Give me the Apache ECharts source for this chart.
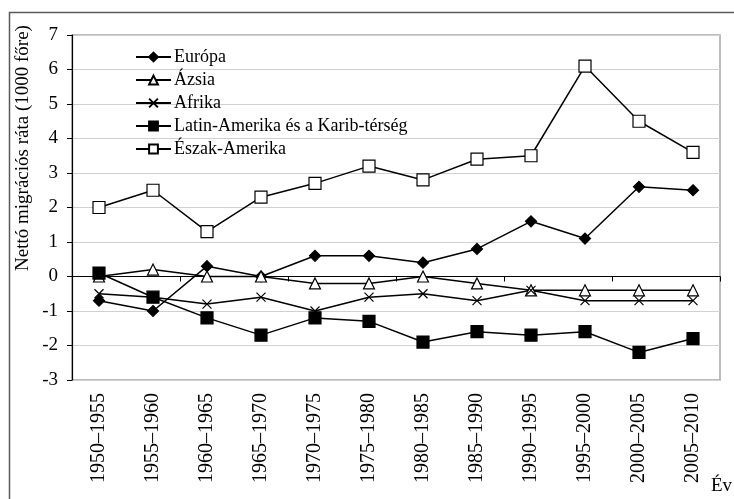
<!DOCTYPE html>
<html><head><meta charset="utf-8">
<script src="https://cdn.jsdelivr.net/npm/echarts@6/dist/echarts.min.js"></script>
<style>html,body{margin:0;padding:0;background:#fff}#c{width:734px;height:499px}</style>
</head><body><div id="c"></div>
<script>
const categories = ['1950–1955','1955–1960','1960–1965','1965–1970','1970–1975','1975–1980','1980–1985','1985–1990','1990–1995','1995–2000','2000–2005','2005–2010'];
const europa = [-0.7,-1.0,0.3,0.0,0.6,0.6,0.4,0.8,1.6,1.1,2.6,2.5];
const azsia = [0.0,0.2,0.0,0.0,-0.2,-0.2,0.0,-0.2,-0.4,-0.4,-0.4,-0.4];
const afrika = [-0.5,-0.6,-0.8,-0.6,-1.0,-0.6,-0.5,-0.7,-0.4,-0.7,-0.7,-0.7];
const latin = [0.1,-0.6,-1.2,-1.7,-1.2,-1.3,-1.9,-1.6,-1.7,-1.6,-2.2,-1.8];
const eszak = [2.0,2.5,1.3,2.3,2.7,3.2,2.8,3.4,3.5,6.1,4.5,3.6];
const seriesNames = ['Európa','Ázsia','Afrika','Latin-Amerika és a Karib-térség','Észak-Amerika'];
const yTitle = 'Nettó migrációs ráta (1000 főre)';
const xTitle = 'Év';

const FONT = '"Liberation Serif","Times New Roman",serif';
const chart = echarts.init(document.getElementById('c'), null, {renderer:'canvas'});
function mk(name, data, symbol, size, fill){
  return {name, type:'line', data, xAxisIndex:0, yAxisIndex:0, symbol, symbolSize:size,
    showAllSymbol:true,
    lineStyle:{color:'#000', width:1.5},
    itemStyle:{color:fill, borderColor:'#000', borderWidth:1.2},
    emphasis:{disabled:true}, animation:false, z:3};
}
chart.setOption({
  animation:false,
  textStyle:{fontFamily:FONT},
  grid:{left:72, right:14, top:35, bottom:119, show:true, borderColor:'#a6a6a6', borderWidth:1.5, containLabel:false},
  legend:{orient:'vertical', left:130, top:43, itemWidth:35, itemHeight:11, itemGap:5,
    textStyle:{fontFamily:FONT, fontSize:18, lineHeight:18, color:'#000', padding:[0,0,0,-2]},
    data:seriesNames},
  xAxis:[
    {type:'category', data:categories, boundaryGap:true,
     axisLine:{onZero:true, lineStyle:{color:'#000', width:1.2}},
     axisTick:{show:true, inside:false, length:5, lineStyle:{color:'#000'}},
     axisLabel:{show:false}, splitLine:{show:false}},
    {type:'category', data:categories, boundaryGap:true, position:'bottom',
     axisLine:{show:false, onZero:false}, axisTick:{show:false},
     axisLabel:{show:true, rotate:90, margin:13, fontFamily:FONT, fontSize:20, color:'#000'},
     splitLine:{show:false}}
  ],
  yAxis:{type:'value', min:-3, max:7, interval:1,
    axisLine:{show:true, lineStyle:{color:'#000', width:1.2}},
    axisTick:{show:true, inside:false, length:5, lineStyle:{color:'#000'}},
    axisLabel:{fontFamily:FONT, fontSize:19, color:'#000', margin:14},
    splitLine:{lineStyle:{color:'#d0d0d0', width:1.2}}},
  graphic:[
    {type:'rect', left:7, top:10, shape:{width:740, height:500}, style:{fill:'none', stroke:'#595959', lineWidth:1.5}, silent:true},
    {type:'text', x:23, y:148, rotation:Math.PI/2, style:{text:yTitle, font:'19px '+FONT, fill:'#000', align:'center', verticalAlign:'middle'}},
    {type:'text', x:711, y:496, style:{text:xTitle, font:'19px '+FONT, fill:'#000', align:'left', verticalAlign:'bottom'}}
  ],
  series:[
    mk(seriesNames[0], europa, 'diamond', 11, '#000'),
    mk(seriesNames[1], azsia, 'triangle', 11, '#fff'),
    mk(seriesNames[2], afrika, 'path://M0,0L10,10M10,0L0,10', 9, '#000'),
    mk(seriesNames[3], latin, 'rect', 12, '#000'),
    mk(seriesNames[4], eszak, 'rect', 12, '#fff')
  ]
});
</script></body></html>
